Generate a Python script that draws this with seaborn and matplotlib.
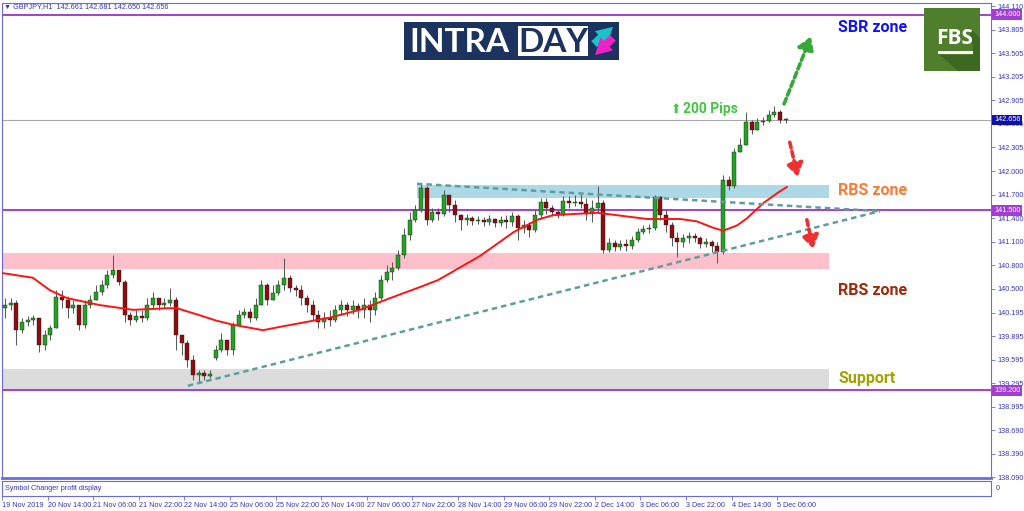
import matplotlib
matplotlib.use("Agg")
import matplotlib.pyplot as plt
import matplotlib.transforms as mtransforms
from matplotlib.patches import Rectangle, Polygon, FancyArrowPatch
import numpy as np
import pandas as pd
import seaborn as sns

# ---------------- data (GBPJPY, 2-hour candles) ----------------
first_open = 140.25
gap_opens = {37: 139.62}

closes = [140.29, 140.32, 139.97, 140.08, 140.10, 140.13, 139.78, 139.91, 140.00, 140.39,
          140.36, 140.25, 140.29, 140.04, 140.29, 140.36, 140.46, 140.55, 140.68, 140.74,
          140.59, 140.16, 140.10, 140.15, 140.13, 140.29, 140.38, 140.29, 140.32, 140.36,
          139.91, 139.81, 139.59, 139.40, 139.42, 139.39, 139.41, 139.72, 139.85, 139.72,
          140.04, 140.16, 140.20, 140.13, 140.29, 140.55, 140.36, 140.45, 140.55, 140.64,
          140.51, 140.48, 140.38, 140.29, 140.16, 140.08, 140.13, 140.10, 140.23, 140.29,
          140.23, 140.28, 140.23, 140.29, 140.23, 140.38, 140.61, 140.71, 140.76, 140.93,
          141.19, 141.38, 141.51, 141.79, 141.38, 141.48, 141.45, 141.70, 141.57, 141.44,
          141.38, 141.40, 141.37, 141.38, 141.35, 141.39, 141.34, 141.38, 141.35, 141.43,
          141.28, 141.31, 141.25, 141.44, 141.61, 141.53, 141.48, 141.44, 141.62, 141.59,
          141.61, 141.58, 141.45, 141.53, 141.59, 140.99, 141.08, 141.03, 141.07, 141.05,
          141.12, 141.22, 141.26, 141.28, 141.67, 141.44, 141.31, 141.15, 141.10, 141.15,
          141.17, 141.15, 141.07, 141.10, 141.05, 140.97, 141.89, 141.81, 142.25, 142.34,
          142.63, 142.53, 142.63, 142.64, 142.72, 142.76, 142.65, 142.66]

highs = [140.38, 140.38, 140.36, 140.13, 140.15, 140.16, 140.13, 139.97, 140.04, 140.48,
         140.48, 140.41, 140.36, 140.29, 140.36, 140.42, 140.55, 140.61, 140.74, 140.93,
         140.74, 140.61, 140.20, 140.23, 140.23, 140.38, 140.46, 140.38, 140.38, 140.51,
         140.40, 139.87, 139.85, 139.65, 139.46, 139.46, 139.46, 139.78, 139.93, 139.85,
         140.08, 140.23, 140.25, 140.25, 140.38, 140.61, 140.57, 140.55, 140.61, 140.89,
         140.68, 140.55, 140.55, 140.42, 140.36, 140.23, 140.20, 140.23, 140.29, 140.36,
         140.33, 140.36, 140.32, 140.38, 140.36, 140.46, 140.68, 140.80, 140.84, 140.99,
         141.28, 141.48, 141.57, 141.85, 141.81, 141.53, 141.53, 141.76, 141.70, 141.63,
         141.45, 141.45, 141.43, 141.43, 141.42, 141.44, 141.40, 141.43, 141.44, 141.48,
         141.45, 141.38, 141.35, 141.51, 141.66, 141.66, 141.57, 141.51, 141.68, 141.68,
         141.70, 141.71, 141.66, 141.63, 141.81, 141.63, 141.15, 141.12, 141.12, 141.14,
         141.17, 141.28, 141.31, 141.33, 141.70, 141.68, 141.51, 141.35, 141.22, 141.20,
         141.22, 141.21, 141.17, 141.15, 141.12, 141.10, 141.95, 141.94, 142.30, 142.42,
         142.76, 142.65, 142.68, 142.69, 142.78, 142.83, 142.78, 142.68]

lows = [140.13, 140.23, 139.78, 139.93, 140.02, 140.04, 139.69, 139.72, 139.85, 140.00,
        140.25, 140.13, 140.19, 139.97, 140.00, 140.25, 140.36, 140.42, 140.51, 140.64,
        140.55, 140.08, 140.04, 140.08, 140.08, 140.10, 140.25, 140.23, 140.25, 140.28,
        139.72, 139.65, 139.50, 139.33, 139.31, 139.33, 139.36, 139.59, 139.69, 139.65,
        139.65, 140.04, 140.13, 140.08, 140.10, 140.29, 140.29, 140.36, 140.42, 140.48,
        140.46, 140.41, 140.29, 140.20, 140.10, 140.00, 140.00, 140.02, 140.08, 140.16,
        140.15, 140.18, 140.13, 140.13, 140.08, 140.16, 140.36, 140.59, 140.61, 140.74,
        140.89, 141.12, 141.35, 141.48, 141.31, 141.35, 141.38, 141.43, 141.48, 141.35,
        141.25, 141.31, 141.31, 141.33, 141.30, 141.31, 141.29, 141.30, 141.28, 141.30,
        141.12, 141.21, 141.16, 141.22, 141.40, 141.45, 141.43, 141.40, 141.43, 141.53,
        141.56, 141.53, 141.38, 141.35, 141.48, 140.96, 140.97, 140.98, 140.99, 140.98,
        141.01, 141.10, 141.20, 141.21, 141.25, 141.38, 141.22, 141.05, 140.91, 141.03,
        141.08, 141.10, 141.02, 141.03, 140.97, 140.83, 140.94, 141.76, 141.79, 142.25,
        142.34, 142.48, 142.53, 142.59, 142.63, 142.69, 142.62, 142.62]

# moving average (red line) read at points along the curve: (candle index, price)
ma_x = [-0.5, 4.9, 7.9, 10.9, 16.7, 22.5, 28.5, 30.2, 34.2, 37.2, 40.0, 45.3, 48.8, 51.8,
        57.0, 62.3, 67.6, 72.8, 76.0, 83.4, 89.2, 93.4, 96.2, 103.9, 112.7, 118.5,
        121.4, 124.2, 126.0, 128.5, 130.2, 133.0, 135.5, 137.2]
ma_y = [140.70, 140.64, 140.48, 140.38, 140.29, 140.23, 140.25, 140.25, 140.16, 140.09,
        140.04, 139.97, 140.02, 140.06, 140.13, 140.23, 140.38, 140.52, 140.61, 140.92,
        141.22, 141.38, 141.44, 141.47, 141.39, 141.39, 141.36, 141.28, 141.24, 141.31,
        141.40, 141.59, 141.72, 141.80]

# trend lines
upper_tl_x = [72.3, 153.5]
upper_tl_y = [141.84, 141.49]
lower_tl_x = [32.1, 153.5]
lower_tl_y = [139.26, 141.49]

# zones (x from, x to, price low, price high)
blue_zone = (72.3, 144.6, 141.66, 141.82)
pink_zone = (-0.5, 144.6, 140.75, 140.96)
gray_zone = (-0.5, 144.6, 139.22, 139.47)

levels = [144.000, 141.500, 139.200]
current_price = 142.656

price_ticks = [144.110, 143.805, 143.505, 143.205, 142.905, 142.605, 142.305, 142.000,
               141.700, 141.400, 141.100, 140.800, 140.500, 140.195, 139.895, 139.595,
               139.295, 138.995, 138.690, 138.390, 138.090]

time_labels = ["19 Nov 2019", "20 Nov 14:00", "21 Nov 06:00", "21 Nov 22:00", "22 Nov 14:00",
               "25 Nov 06:00", "25 Nov 22:00", "26 Nov 14:00", "27 Nov 06:00", "27 Nov 22:00",
               "28 Nov 14:00", "29 Nov 06:00", "29 Nov 22:00", "2 Dec 14:00", "3 Dec 06:00",
               "3 Dec 22:00", "4 Dec 14:00", "5 Dec 06:00"]
time_label_pos = [-0.5, 7.5, 15.5, 23.5, 31.5, 39.5, 47.5, 55.5, 63.5, 71.5, 79.5, 87.5,
                  95.5, 103.5, 111.5, 119.5, 127.5, 135.5]

# projection arrows (tail -> head)
green_arrow = ((136.7, 142.86), (141.4, 143.72))
red_arrow_1 = ((137.7, 142.37), (139.1, 141.93))
red_arrow_2 = ((140.7, 141.38), (141.8, 141.01))

# ---------------- styling ----------------
sns.set_theme(style="white")
plt.rcParams['font.family'] = ['Liberation Sans', 'DejaVu Sans']

W, H = 1024, 511
fig = plt.figure(figsize=(W / 100, H / 100), dpi=100)
fig.patch.set_facecolor('white')


def fr(l, t, r, b):
    return [l / W, 1 - b / H, (r - l) / W, (b - t) / H]


AXIS_BLUE = '#6a6ae4'
TEXT_BLUE = '#3636c4'
PURPLE = '#a23fd2'

ax = fig.add_axes(fr(2, 3, 991, 478))
ax.set_facecolor('white')
ax.set_xlim(-0.5, 173.0)
ax.set_ylim(138.082, 144.149)

n = len(closes)
idx = np.arange(n)
c = np.array(closes)
opens = np.array([first_open] + closes[:-1])
for k, v in gap_opens.items():
    opens[k] = v
hi = np.maximum(np.array(highs), np.maximum(opens, c))
lo = np.minimum(np.array(lows), np.minimum(opens, c))
df = pd.DataFrame({"i": idx, "open": opens, "close": c, "high": hi, "low": lo})
df["up"] = df["close"] >= df["open"]

# zones
for (x0, x1, y0, y1), col in [(blue_zone, '#add8e6'), (pink_zone, '#ffc0cb'), (gray_zone, '#dcdcdc')]:
    ax.fill_between([x0, x1], y0, y1, color=col, lw=0, zorder=1)

# horizontal levels
for lv in levels:
    ax.axhline(lv, color=PURPLE, lw=1.4, zorder=2)
ax.axhline(current_price, color='#a8a8a8', lw=0.8, zorder=2)

# candles
ax.vlines(df["i"], df["low"], df["high"], color='#5a5a5a', lw=0.75, zorder=3)
body_bottom = np.minimum(df["open"], df["close"])
body_h = np.maximum((df["close"] - df["open"]).abs(), 0.012)
ax.bar(df["i"], body_h, bottom=body_bottom, width=0.7,
       color=np.where(df["up"], '#22a322', '#8e0c0c'), edgecolor='#1e1e1e',
       linewidth=0.3, zorder=4)

# moving average
sns.lineplot(x=ma_x, y=ma_y, ax=ax, color='#ff1414', lw=1.4, zorder=5,
             estimator=None, sort=False, legend=False)

# trend lines
for xs, ys in [(upper_tl_x, upper_tl_y), (lower_tl_x, lower_tl_y)]:
    ax.plot(xs, ys, color='#5f9ea0', lw=1.8, dashes=(2.2, 1.6), zorder=6,
            solid_capstyle='butt', dash_capstyle='butt')

# arrows
for (tail, head), col in [(green_arrow, '#36a836'), (red_arrow_1, '#f03030'), (red_arrow_2, '#f03030')]:
    ax.annotate('', xy=head, xytext=tail,
                arrowprops=dict(arrowstyle='-|>,head_length=0.55,head_width=0.35',
                                color=col, lw=2.6, linestyle=(0, (1.6, 1.0)),
                                shrinkA=0, shrinkB=0, mutation_scale=14),
                zorder=7)

# zone texts
ax.text(146.2, 143.84, "SBR zone", color='#1414f0', fontsize=11.5, fontweight='bold',
        family='Roboto', va='center', ha='left', zorder=8)
ax.text(146.2, 141.75, "RBS zone", color='#ff7a33', fontsize=11.5, fontweight='bold',
        family='Roboto', va='center', ha='left', zorder=8)
ax.text(146.2, 140.48, "RBS zone", color='#a22a0a', fontsize=11.5, fontweight='bold',
        family='Roboto', va='center', ha='left', zorder=8)
ax.text(146.2, 139.35, "Support", color='#a3a300', fontsize=11.5, fontweight='bold',
        family='Roboto', va='center', ha='left', zorder=8)
ax.text(116.9, 142.79, "\u2b06", color='#40c840', fontsize=9, family='DejaVu Sans',
        va='center', ha='left', zorder=8)
ax.text(118.9, 142.79, "200 Pips", color='#40c840', fontsize=10, fontweight='bold',
        family='Roboto', va='center', ha='left', zorder=8)

# right price axis
ax.yaxis.tick_right()
ax.set_yticks(price_ticks)
ax.set_yticklabels([f"{v:.3f}" for v in price_ticks])
ax.set_xticks([])
ax.tick_params(axis='y', right=True, left=False, direction='out', length=3, width=0.6,
               color=AXIS_BLUE, labelcolor=TEXT_BLUE, labelsize=5.2, pad=1.5)
for s in ax.spines.values():
    s.set_color(AXIS_BLUE)
    s.set_linewidth(0.8)
ax.spines['bottom'].set_linewidth(2.0)

trans = mtransforms.blended_transform_factory(ax.transAxes, ax.transData)
for lv in levels:
    ax.text(1.003, lv, f"{lv:.3f}", transform=trans, ha='left', va='center', fontsize=5.2,
            color='white', bbox=dict(boxstyle='square,pad=0.25', fc=PURPLE, ec='none'),
            zorder=10, clip_on=False)
ax.text(1.003, current_price, f"{current_price:.3f}", transform=trans, ha='left', va='center',
        fontsize=5.2, color='white', bbox=dict(boxstyle='square,pad=0.25', fc='#1010a8', ec='none'),
        zorder=10, clip_on=False)

fig.text(4 / W, 1 - 7 / H, "\u25bc GBPJPY,H1  142.661 142.681 142.650 142.656", fontsize=5.2,
         color=TEXT_BLUE, va='center', ha='left')

# sub window with time axis
ax2 = fig.add_axes(fr(2, 481, 991, 496))
ax2.set_facecolor('white')
ax2.set_xlim(-0.5, 173.0)
ax2.set_ylim(0, 1)
ax2.set_yticks([])
ax2.set_xticks(time_label_pos)
ax2.set_xticklabels(time_labels)
ax2.tick_params(axis='x', bottom=True, direction='out', length=3, width=0.6, color=AXIS_BLUE,
                labelcolor=TEXT_BLUE, labelsize=5.2, pad=1.5)
for lab in ax2.get_xticklabels():
    lab.set_ha('left')
for s in ax2.spines.values():
    s.set_color(AXIS_BLUE)
    s.set_linewidth(0.8)
ax2.text(0.003, 0.5, "Symbol Changer profit display", transform=ax2.transAxes, fontsize=5.2,
         color=TEXT_BLUE, va='center', ha='left')
ax2.text(1.005, 0.5, "0", transform=ax2.transAxes, fontsize=5.2, color=TEXT_BLUE,
         va='center', ha='left', clip_on=False)

# overlay for logos
ov = fig.add_axes([0, 0, 1, 1], zorder=20)
ov.set_xlim(0, W)
ov.set_ylim(H, 0)
ov.axis('off')
ov.patch.set_alpha(0)

NAVY = '#1c3360'
ov.add_patch(Rectangle((404, 22), 215, 38, fc=NAVY, ec='none'))
ov.text(409, 42, "INTRA", color='white', fontsize=24, fontweight='bold', family='Lato',
        va='center', ha='left')
ov.add_patch(Rectangle((518, 26), 70, 30, fc='white', ec='none'))
ov.text(553, 42, "DAY", color=NAVY, fontsize=24, fontweight='bold', family='Lato',
        va='center', ha='center')
ov.add_patch(FancyArrowPatch((592, 46), (615, 25),
                             arrowstyle='simple,head_length=0.9,head_width=1.0,tail_width=0.45',
                             mutation_scale=13, color='#18c4c8', lw=0))
ov.add_patch(FancyArrowPatch((615, 36), (593, 57),
                             arrowstyle='simple,head_length=0.9,head_width=1.0,tail_width=0.45',
                             mutation_scale=13, color='#f020c8', lw=0))

ov.add_patch(Rectangle((924, 8), 56, 63, fc='#4f7f2d', ec='none'))
ov.add_patch(Polygon([(968, 26), (980, 38), (980, 71), (958, 71), (940, 55), (973, 55), (973, 46)],
                     closed=True, fc='#3d6822', ec='none'))
ov.text(955, 38, "FBS", color='white', fontsize=15, fontweight='bold', family='Open Sans',
        va='center', ha='center')
ov.add_patch(Rectangle((938, 51.5), 35, 2.6, fc='white', ec='none'))

fig.savefig("out.png", dpi=100, facecolor='white')
